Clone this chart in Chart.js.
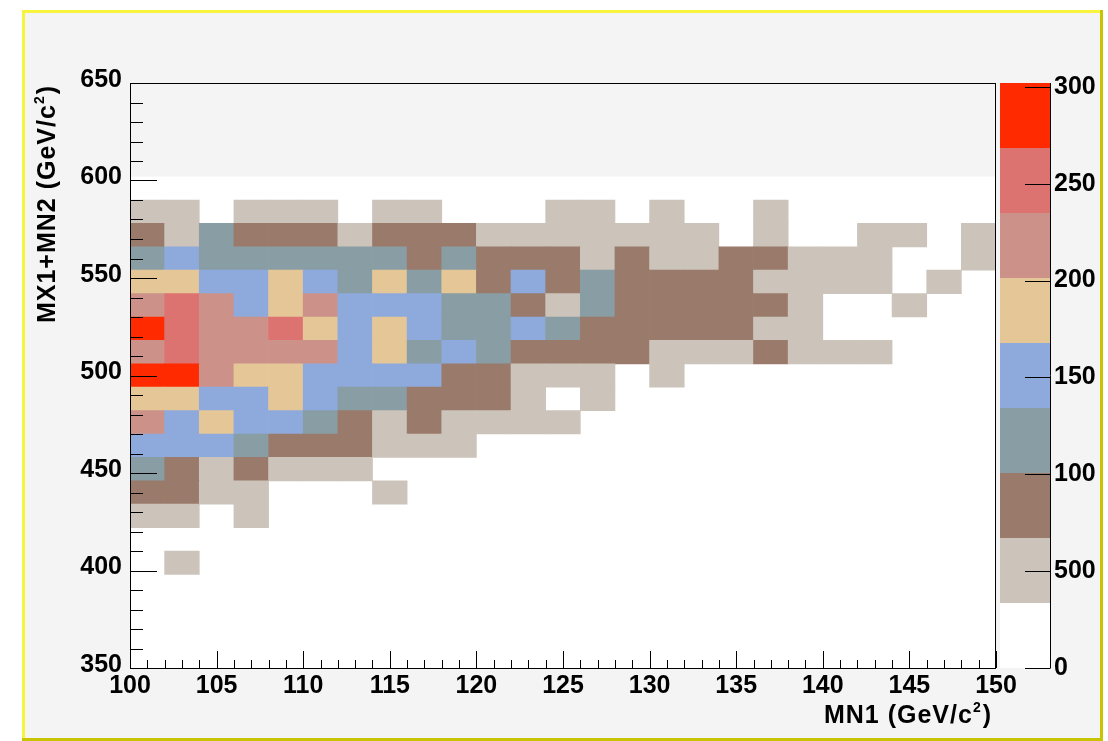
<!DOCTYPE html>
<html>
<head>
<meta charset="utf-8">
<script src="https://cdn.jsdelivr.net/npm/chart.js@4/dist/chart.umd.min.js"></script>
<style>
  html, body { margin: 0; padding: 0; background: #ffffff; }
  canvas { display: block; }
</style>
</head>
<body>
<canvas id="c" width="1108" height="741"></canvas>
<script>
// Bin edges of the 2D histogram
const xEdges = [100, 102, 104, 106, 108, 110, 112, 114, 116, 118, 120, 122, 124,
                126, 128, 130, 132, 134, 136, 138, 140, 142, 144, 146, 148, 150];
const yEdges = [350, 362, 374, 386, 398, 410, 422, 434, 446, 458, 470,
                482, 494, 506, 518, 530, 542, 554, 566, 578, 590, 602];

// Axis tick labels
const xTicks = [100, 105, 110, 115, 120, 125, 130, 135, 140, 145, 150];
const yTicks = [350, 400, 450, 500, 550, 600, 650];
const zTicks = [0, 50, 100, 150, 200, 250, 300];
const zTickLabels = ['0', '500', '100', '150', '200', '250', '300'];

// Axis titles: main text, superscript, closing text
const xTitle = ['MN1 (GeV/c', '2', ')'];
const yTitle = ['MX1+MN2 (GeV/c', '2', ')'];

// Colour scale: nine equal contour levels from 0 to zMax
const zMax = 302;
const palette = ['#ffffff', '#ccc3ba', '#9a7b6b', '#899da4', '#8eaadc',
                 '#e5c697', '#cc928a', '#dd7371', '#ff2a00'];

// Entries per cell; counts[j][i] covers yEdges[j]..yEdges[j+1] and xEdges[i]..xEdges[i+1]
const counts = [
  /* 350 */ [0,0,0,0,0,0,0,0,0,0,0,0,0,0,0,0,0,0,0,0,0,0,0,0,0],
  /* 362 */ [0,0,0,0,0,0,0,0,0,0,0,0,0,0,0,0,0,0,0,0,0,0,0,0,0],
  /* 374 */ [0,0,0,0,0,0,0,0,0,0,0,0,0,0,0,0,0,0,0,0,0,0,0,0,0],
  /* 386 */ [0,0,0,0,0,0,0,0,0,0,0,0,0,0,0,0,0,0,0,0,0,0,0,0,0],
  /* 398 */ [0,50,0,0,0,0,0,0,0,0,0,0,0,0,0,0,0,0,0,0,0,0,0,0,0],
  /* 410 */ [0,0,0,0,0,0,0,0,0,0,0,0,0,0,0,0,0,0,0,0,0,0,0,0,0],
  /* 422 */ [50,50,0,50,0,0,0,0,0,0,0,0,0,0,0,0,0,0,0,0,0,0,0,0,0],
  /* 434 */ [84,84,50,50,0,0,0,50,0,0,0,0,0,0,0,0,0,0,0,0,0,0,0,0,0],
  /* 446 */ [118,84,50,84,50,50,50,0,0,0,0,0,0,0,0,0,0,0,0,0,0,0,0,0,0],
  /* 458 */ [151,151,151,118,84,84,84,50,50,50,0,0,0,0,0,0,0,0,0,0,0,0,0,0,0],
  /* 470 */ [218,151,185,151,151,118,84,50,84,50,50,50,50,0,0,0,0,0,0,0,0,0,0,0,0],
  /* 482 */ [185,185,151,151,185,151,118,118,84,84,84,50,0,50,0,0,0,0,0,0,0,0,0,0,0],
  /* 494 */ [286,286,218,185,185,151,151,151,151,84,84,50,50,50,0,50,0,0,0,0,0,0,0,0,0],
  /* 506 */ [218,252,218,218,218,218,151,185,118,151,118,84,84,84,84,50,50,50,84,50,50,50,0,0,0],
  /* 518 */ [286,252,218,218,252,185,151,185,151,118,118,151,118,84,84,84,84,84,50,50,0,0,0,0,0],
  /* 530 */ [218,252,218,151,185,218,151,151,151,118,118,84,50,118,84,84,84,84,84,50,0,0,50,0,0],
  /* 542 */ [185,185,151,151,185,151,118,185,118,185,84,151,84,118,84,84,84,84,50,50,50,50,0,50,0],
  /* 554 */ [118,151,118,118,118,118,118,118,84,118,84,84,84,50,84,50,50,84,84,50,50,50,0,0,50],
  /* 566 */ [84,50,118,84,84,84,50,84,84,84,50,50,50,50,50,50,50,0,50,0,0,50,50,0,50],
  /* 578 */ [50,50,0,50,50,50,0,50,50,0,0,0,50,50,0,50,0,0,50,0,0,0,0,0,0],
  /* 590 */ [0,0,0,0,0,0,0,0,0,0,0,0,0,0,0,0,0,0,0,0,0,0,0,0,0]
];

const FONT = "'Liberation Sans', Arial, Helvetica, sans-serif";

function levelColor(v) {
  const k = Math.min(palette.length - 1, Math.floor(v / (zMax / palette.length)));
  return palette[k];
}

// One floating-bar dataset per y bin, one bar per non-empty cell
const datasets = counts.map((row, j) => {
  const data = [];
  const colors = [];
  row.forEach((v, i) => {
    if (v > 0) {
      data.push({ x: (xEdges[i] + xEdges[i + 1]) / 2, y: [yEdges[j], yEdges[j + 1]], v: v });
      colors.push(levelColor(v));
    }
  });
  return { label: 'y ' + yEdges[j], data: data, backgroundColor: colors, xAxisID: 'x', yAxisID: 'y' };
});

// Title with a raised exponent, drawn so that it ends at the local origin on baseline 0
function drawTitleText(ctx, parts) {
  const big = 'bold 25px ' + FONT;
  const small = 'bold 14px ' + FONT;
  ctx.letterSpacing = '1px';
  ctx.font = big;
  const w0 = ctx.measureText(parts[0]).width;
  const w2 = ctx.measureText(parts[2]).width;
  ctx.font = small;
  const w1 = ctx.measureText(parts[1]).width;
  let x = -(w0 + w1 + w2 + 1);
  ctx.textAlign = 'left';
  ctx.textBaseline = 'alphabetic';
  ctx.font = big;
  ctx.fillText(parts[0], x, 0);
  x += w0;
  ctx.font = small;
  ctx.fillText(parts[1], x, -11);
  x += w1 + 1;
  ctx.font = big;
  ctx.fillText(parts[2], x, 0);
  ctx.letterSpacing = '0px';
}

const canvasDecor = {
  id: 'canvasDecor',
  beforeDraw(chart) {
    const ctx = chart.ctx;
    ctx.save();
    ctx.fillStyle = '#ffffff';
    ctx.fillRect(0, 0, chart.width, chart.height);
    ctx.fillStyle = '#f4f4f4';
    ctx.fillRect(22, 10, 1081, 731);
    // bevelled yellow border of the canvas
    ctx.fillStyle = '#f8f33c';
    ctx.fillRect(22, 10, 1081, 3);
    ctx.fillRect(22, 10, 3, 731);
    ctx.fillStyle = '#c8c400';
    ctx.fillRect(1100, 10, 3, 731);
    ctx.fillRect(22, 738, 1081, 3);
    ctx.restore();
  },
  beforeDatasetsDraw(chart) {
    const { ctx, scales: { x, y } } = chart;
    const top = y.getPixelForValue(yEdges[yEdges.length - 1]);
    const bottom = y.getPixelForValue(yEdges[0]);
    ctx.save();
    ctx.fillStyle = '#ffffff';
    ctx.fillRect(x.left, top, x.right - x.left, bottom - top);
    ctx.restore();
  },
  afterDatasetsDraw(chart) {
    const { ctx, chartArea: a, scales: { x, y, z } } = chart;
    ctx.save();
    ctx.strokeStyle = '#000000';
    ctx.lineWidth = 1;

    // frame
    ctx.strokeRect(Math.round(a.left) + 0.5, Math.round(a.top) + 0.5,
                   Math.round(a.right - a.left) - 1, Math.round(a.bottom - a.top));

    // x axis ticks, pointing into the frame
    ctx.beginPath();
    for (let v = x.min; v <= x.max; v += 1) {
      const px = Math.round(x.getPixelForValue(v)) + 0.5;
      const len = v % 5 === 0 ? 17 : 8;
      ctx.moveTo(px, a.bottom);
      ctx.lineTo(px, a.bottom - len);
    }
    // y axis ticks
    for (let v = y.min; v <= y.max; v += 10) {
      const py = Math.round(y.getPixelForValue(v)) + 0.5;
      const len = v % 50 === 0 ? 27 : 13;
      ctx.moveTo(a.left, py);
      ctx.lineTo(a.left + len, py);
    }
    ctx.stroke();

    // colour bar
    const cbL = 1000, cbR = 1050;
    const step = zMax / palette.length;
    palette.forEach((col, k) => {
      const y0 = z.getPixelForValue(k * step);
      const y1 = z.getPixelForValue((k + 1) * step);
      ctx.fillStyle = col;
      ctx.fillRect(cbL, y1, cbR - cbL, y0 - y1);
    });
    ctx.beginPath();
    ctx.moveTo(cbR + 0.5, z.top);
    ctx.lineTo(cbR + 0.5, z.bottom);
    zTicks.forEach(v => {
      const py = Math.round(z.getPixelForValue(v)) + 0.5;
      ctx.moveTo(cbR - 25, py);
      ctx.lineTo(cbR + 0.5, py);
    });
    ctx.stroke();
    ctx.restore();
  },
  afterDraw(chart) {
    const { ctx, chartArea: a } = chart;
    ctx.save();
    ctx.fillStyle = '#000000';
    // x title, right-aligned under the axis
    ctx.save();
    ctx.translate(a.right - 4, 723);
    drawTitleText(ctx, xTitle);
    ctx.restore();
    // y title, rotated, ending at the top of the axis
    ctx.save();
    ctx.translate(55, a.top + 2);
    ctx.rotate(-Math.PI / 2);
    drawTitleText(ctx, yTitle);
    ctx.restore();
    ctx.restore();
  }
};

const tickFont = { family: FONT, size: 25, weight: 'bold' };

new Chart(document.getElementById('c'), {
  type: 'bar',
  data: { datasets: datasets },
  options: {
    responsive: false,
    animation: false,
    devicePixelRatio: 1,
    layout: { padding: { left: 22, top: 83, right: 0, bottom: 0 } },
    plugins: {
      legend: { display: false },
      tooltip: { enabled: false }
    },
    datasets: {
      bar: { grouped: false, barPercentage: 1, categoryPercentage: 1, borderWidth: 0 }
    },
    scales: {
      x: {
        type: 'linear', position: 'bottom', min: 100, max: 150, offset: false,
        grid: { display: false, drawTicks: false },
        border: { display: false },
        afterBuildTicks: s => { s.ticks = xTicks.map(v => ({ value: v })); },
        afterFit: s => { s.height = 72; },
        ticks: { font: tickFont, color: '#000000', padding: 3, maxRotation: 0, autoSkip: false }
      },
      y: {
        type: 'linear', position: 'left', min: 350, max: 650,
        grid: { display: false, drawTicks: false },
        border: { display: false },
        afterBuildTicks: s => { s.ticks = yTicks.map(v => ({ value: v })); },
        afterFit: s => { s.width = 108; },
        ticks: { font: tickFont, color: '#000000', padding: 8, labelOffset: -3, autoSkip: false }
      },
      z: {
        type: 'linear', position: 'right', min: 0, max: zMax,
        grid: { display: false, drawTicks: false },
        border: { display: false },
        afterBuildTicks: s => { s.ticks = zTicks.map(v => ({ value: v })); },
        afterFit: s => { s.width = 112; },
        ticks: { font: tickFont, color: '#000000', padding: 58, autoSkip: false,
                 callback: (val, i) => zTickLabels[i] }
      }
    }
  },
  plugins: [canvasDecor]
});
</script>
</body>
</html>
